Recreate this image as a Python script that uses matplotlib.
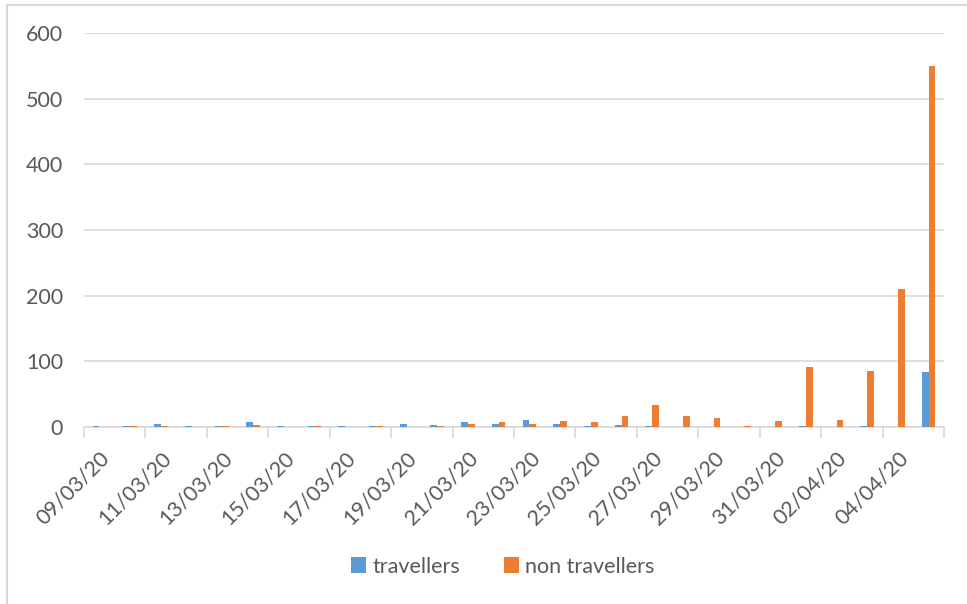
import numpy as np
import matplotlib
matplotlib.use("Agg")
import matplotlib.pyplot as plt
from matplotlib.lines import Line2D

# ---------------- 데이터 ----------------
dates = ["09/03/20", "10/03/20", "11/03/20", "12/03/20", "13/03/20", "14/03/20",
         "15/03/20", "16/03/20", "17/03/20", "18/03/20", "19/03/20", "20/03/20",
         "21/03/20", "22/03/20", "23/03/20", "24/03/20", "25/03/20", "26/03/20",
         "27/03/20", "28/03/20", "29/03/20", "30/03/20", "31/03/20", "01/04/20",
         "02/04/20", "03/04/20", "04/04/20", "05/04/20"]
travellers = [1, 1, 5, 2, 2, 7, 2, 2, 2, 2, 4, 3, 7, 4, 10, 5, 1, 3,
              1, 0, 0, 0, 0, 1, 0, 1, 0, 84]
non_travellers = [0, 1, 2, 0, 1, 3, 0, 1, 0, 1, 0, 1, 5, 7, 5, 9, 7, 16,
                  33, 17, 14, 1, 9, 91, 11, 86, 210, 550]
y_ticks = [0, 100, 200, 300, 400, 500, 600]

BLUE, ORANGE = "#5B9BD5", "#ED7D31"
TXT, GRID = "#595959", "#D9D9D9"
plt.rcParams["font.family"] = ["Lato", "DejaVu Sans"]

fig = plt.figure(figsize=(9.67, 6.04), dpi=100)
ax = fig.add_axes([84 / 967, 177 / 604, 860 / 967, 394 / 604])

x = np.arange(len(dates))
w = 0.22
ax.bar(x - w / 2, travellers, w, color=BLUE, label="travellers", zorder=3)
ax.bar(x + w / 2, non_travellers, w, color=ORANGE, label="non travellers", zorder=3)

ax.set_xlim(-0.5, len(dates) - 0.5)
ax.set_ylim(0, 600)
ax.set_yticks(y_ticks)
ax.grid(axis="y", color=GRID, lw=1.2, zorder=0)
ax.tick_params(axis="y", length=0, pad=15, labelsize=15.5, labelcolor=TXT)

# 라벨은 격일, 눈금선은 2칸 경계마다
ax.set_xticks(x[::2])
ax.set_xticklabels(dates[::2], rotation=45, ha="right", va="top",
                   rotation_mode="anchor", fontsize=15.5, color=TXT)
ax.tick_params(axis="x", which="major", length=0, pad=15)
ax.set_xticks(np.arange(-0.5, len(dates), 2), minor=True)
ax.tick_params(axis="x", which="minor", length=8, width=1.2, color=GRID)

for s in ["top", "right", "left"]:
    ax.spines[s].set_visible(False)
ax.spines["bottom"].set_color(GRID)
ax.spines["bottom"].set_linewidth(1.2)

leg = fig.legend(loc="center", bbox_to_anchor=(0.52, 0.062), ncol=2, frameon=False,
                 fontsize=15.5, handlelength=0.7, handleheight=0.7, handletextpad=0.3,
                 columnspacing=2.0, labelcolor=TXT)

# 차트 영역 테두리 (왼쪽/위)
fig.add_artist(Line2D([7 / 967, 7 / 967], [0, 1 - 5 / 604], transform=fig.transFigure,
                      color=GRID, lw=1.5))
fig.add_artist(Line2D([7 / 967, 1], [1 - 5 / 604, 1 - 5 / 604], transform=fig.transFigure,
                      color=GRID, lw=1.5))

fig.savefig("out.png", dpi=100)
